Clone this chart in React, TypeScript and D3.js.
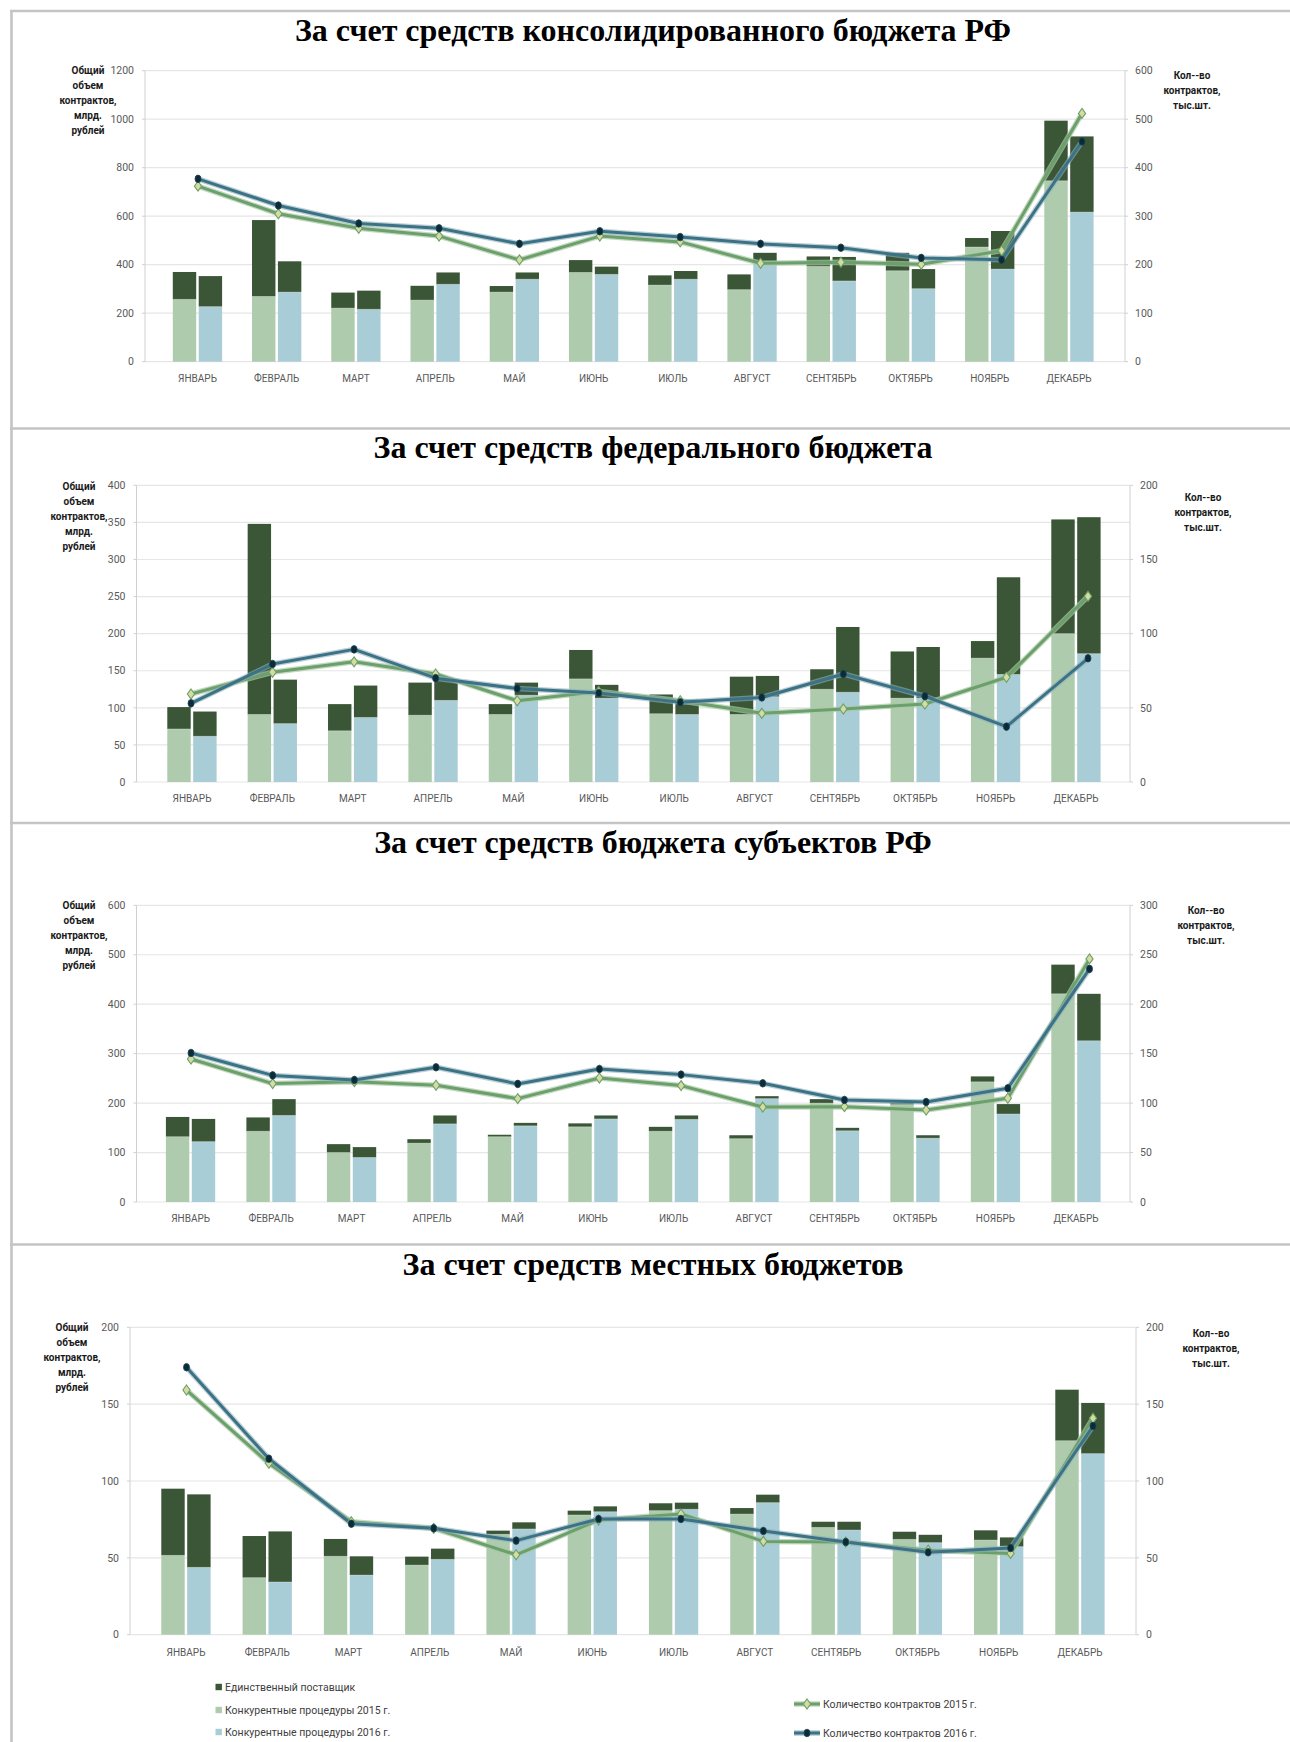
import React from 'react';
import * as d3 from 'd3';

// ---------- categories / labels ----------
const MONTHS = ['ЯНВАРЬ', 'ФЕВРАЛЬ', 'МАРТ', 'АПРЕЛЬ', 'МАЙ', 'ИЮНЬ', 'ИЮЛЬ', 'АВГУСТ', 'СЕНТЯБРЬ', 'ОКТЯБРЬ', 'НОЯБРЬ', 'ДЕКАБРЬ'];
const TITLES = [
  'За счет средств консолидированного бюджета РФ',
  'За счет средств федерального бюджета',
  'За счет средств бюджета субъектов РФ',
  'За счет средств местных бюджетов',
];
const LEFT_LABEL = ['Общий', 'объем', 'контрактов,', 'млрд.', 'рублей'];
const RIGHT_LABEL = ['Кол--во', 'контрактов,', 'тыс.шт.'];
const LEGEND_BARS = ['Единственный поставщик', 'Конкурентные процедуры 2015 г.', 'Конкурентные процедуры 2016 г.'];
const LEGEND_LINES = ['Количество контрактов 2015 г.', 'Количество контрактов 2016 г.'];

// ---------- axis ranges ----------
const LEFT_MAX = [1200, 400, 600, 200];
const LEFT_STEP = [200, 50, 100, 50];
const RIGHT_MAX = [600, 200, 300, 200];
const RIGHT_STEP = [100, 50, 50, 50];

// ---------- panel 1: consolidated budget ----------
const CONS_COMP_2015 = [257, 269, 221, 254, 287, 368, 316, 297, 393, 375, 473, 746];
const CONS_TOTAL_2015 = [370, 584, 285, 313, 312, 419, 356, 360, 434, 449, 510, 994];
const CONS_COMP_2016 = [227, 287, 216, 319, 340, 360, 340, 414, 333, 301, 382, 617];
const CONS_TOTAL_2016 = [353, 414, 293, 368, 368, 392, 374, 449, 432, 382, 539, 929];
const CONS_COUNT_2015 = [362, 305, 275, 259, 210, 259, 247, 203, 205, 201, 229, 512];
const CONS_COUNT_2016 = [377, 322, 285, 275, 243, 269, 257, 243, 235, 214, 210, 454];

// ---------- panel 2: federal budget ----------
const FED_COMP_2015 = [71.5, 91, 69, 90, 91, 139, 92, 91, 125, 113, 167, 200];
const FED_TOTAL_2015 = [101, 348, 105, 134, 105, 178, 118, 142, 152, 176, 190, 354];
const FED_COMP_2016 = [61.6, 78.7, 87, 110, 117, 113, 91, 115, 121, 113, 145, 173];
const FED_TOTAL_2016 = [95, 138, 130, 138, 134, 131, 111, 143, 209, 182, 276, 357];
const FED_COUNT_2015 = [59.3, 74, 81, 72.8, 54.8, 61, 54.8, 46.3, 49.2, 52.6, 70.6, 125.2];
const FED_COUNT_2016 = [53, 79.5, 89.4, 70, 63, 60, 53.7, 57, 72.8, 57.8, 37.3, 83.4];

// ---------- panel 3: regional budgets ----------
const REG_COMP_2015 = [132, 143, 100, 119, 132, 152, 143, 128, 200, 197, 243, 421];
const REG_TOTAL_2015 = [172, 171, 117, 127, 136, 159, 152, 135, 208, 200, 254, 480];
const REG_COMP_2016 = [122, 175, 90, 158, 154, 168, 167, 209, 144, 129, 178, 326];
const REG_TOTAL_2016 = [168, 208, 111, 175, 160, 175, 175, 214, 150, 135, 198, 421];
const REG_COUNT_2015 = [144.6, 119.7, 121.7, 118, 104.5, 125.4, 117.7, 96, 96.4, 93, 104.9, 245.8];
const REG_COUNT_2016 = [150.7, 128, 123.4, 136.2, 119.4, 134.5, 128.8, 120, 103.2, 101.1, 115, 235.7];

// ---------- panel 4: local budgets ----------
const LOC_COMP_2015 = [51.6, 37.1, 51, 45.3, 65.3, 77.9, 80.7, 78.5, 69.8, 62, 61.6, 126.2];
const LOC_TOTAL_2015 = [95, 64.2, 62.3, 50.8, 67.7, 80.7, 85.5, 82.4, 73.5, 67, 67.9, 159.4];
const LOC_COMP_2016 = [43.8, 34.3, 38.8, 49, 68.8, 80, 81.6, 85.9, 68.1, 59.9, 57.3, 117.8];
const LOC_TOTAL_2016 = [91.3, 67.2, 51, 56, 73.1, 83.5, 85.9, 91.1, 73.5, 65, 63.3, 150.8];
const LOC_COUNT_2015 = [159.2, 111.5, 73.5, 69.2, 52, 74.6, 78.5, 60.7, 60.3, 55, 52.9, 140.8];
const LOC_COUNT_2016 = [174, 114.5, 72.2, 69.2, 61.2, 75.3, 75.3, 67.5, 60.3, 53.6, 56.4, 135.8];

const SERIES = [
  { comp15: CONS_COMP_2015, tot15: CONS_TOTAL_2015, comp16: CONS_COMP_2016, tot16: CONS_TOTAL_2016, c15: CONS_COUNT_2015, c16: CONS_COUNT_2016 },
  { comp15: FED_COMP_2015, tot15: FED_TOTAL_2015, comp16: FED_COMP_2016, tot16: FED_TOTAL_2016, c15: FED_COUNT_2015, c16: FED_COUNT_2016 },
  { comp15: REG_COMP_2015, tot15: REG_TOTAL_2015, comp16: REG_COMP_2016, tot16: REG_TOTAL_2016, c15: REG_COUNT_2015, c16: REG_COUNT_2016 },
  { comp15: LOC_COMP_2015, tot15: LOC_TOTAL_2015, comp16: LOC_COMP_2016, tot16: LOC_TOTAL_2016, c15: LOC_COUNT_2015, c16: LOC_COUNT_2016 },
];

// ---------- layout (positions only) ----------
const LAYOUT = [
  { axL: 145, axR: 1125, yTop: 70.7, y0: 361.7, bar0: 197.5, bar1: 1069, line0: 198, line1: 1082, titleY: 41, xLabY: 378, lLX: 88, lLY: 70.7, rLX: 1192, rLY: 75 },
  { axL: 136.5, axR: 1130, yTop: 485.3, y0: 782, bar0: 192, bar1: 1076, line0: 191, line1: 1088, titleY: 458, xLabY: 798, lLX: 79, lLY: 486, rLX: 1203, rLY: 497 },
  { axL: 136.5, axR: 1130, yTop: 905.3, y0: 1202, bar0: 190.6, bar1: 1076, line0: 191, line1: 1089.5, titleY: 853, xLabY: 1218, lLX: 79, lLY: 905, rLX: 1206, rLY: 910 },
  { axL: 130, axR: 1136, yTop: 1327.3, y0: 1634.7, bar0: 186, bar1: 1080, line0: 186.5, line1: 1093, titleY: 1275, xLabY: 1652, lLX: 72, lLY: 1327, rLX: 1211, rLY: 1333 },
];

const C_DARK = '#3a5636';
const C_G15 = '#aecbae';
const C_B16 = '#a9cdd7';
const C_L15 = '#6b9f6b';
const C_L16 = '#3b7285';
const FONT = 'Roboto, "Open Sans", sans-serif';
const TITLE_FONT = '"Liberation Serif", "Times New Roman", serif';

function Diamond({ x, y }: { x: number; y: number }) {
  return (
    <path d={`M${x},${y - 5} L${x + 3.6},${y} L${x},${y + 5} L${x - 3.6},${y} Z`} fill="#d6dca0" stroke={C_L15} strokeWidth={1.1} />
  );
}
function Dot({ x, y }: { x: number; y: number }) {
  return <ellipse cx={x} cy={y} rx={3} ry={3.8} fill="#0c2a38" stroke="#1d4656" strokeWidth={0.8} />;
}

function Panel({ idx }: { idx: number }) {
  const L = LAYOUT[idx];
  const S = SERIES[idx];
  const yL = d3.scaleLinear().domain([0, LEFT_MAX[idx]]).range([L.y0, L.yTop]);
  const yR = d3.scaleLinear().domain([0, RIGHT_MAX[idx]]).range([L.y0, L.yTop]);
  const xBar = d3.scalePoint<string>().domain(MONTHS).range([L.bar0, L.bar1]);
  const xLine = d3.scalePoint<string>().domain(MONTHS).range([L.line0, L.line1]);
  const leftTicks = d3.range(0, LEFT_MAX[idx] + 0.001, LEFT_STEP[idx]);
  const rightTicks = d3.range(0, RIGHT_MAX[idx] + 0.001, RIGHT_STEP[idx]);
  const line = d3.line<number>().x((_, i) => xLine(MONTHS[i]) as number).y((v) => yR(v));
  const bw = 23.4;

  return (
    <g>
      <text x={653} y={L.titleY} textAnchor="middle" fontFamily={TITLE_FONT} fontWeight="bold" fontSize={32} fill="#000">
        {TITLES[idx]}
      </text>
      {/* grid */}
      {leftTicks.map((t) => (
        <line key={'g' + t} x1={L.axL} x2={L.axR} y1={yL(t)} y2={yL(t)} stroke="#e6e6e6" strokeWidth={1.2} />
      ))}
      {/* axes */}
      <line x1={L.axL} x2={L.axL} y1={L.yTop} y2={L.y0} stroke="#d0d0d0" strokeWidth={1} />
      <line x1={L.axR} x2={L.axR} y1={L.yTop} y2={L.y0} stroke="#d0d0d0" strokeWidth={1} />
      {leftTicks.map((t) => (
        <g key={'lt' + t}>
          <line x1={L.axL - 3} x2={L.axL} y1={yL(t)} y2={yL(t)} stroke="#d0d0d0" />
          <text x={L.axL - 11} y={yL(t)} dy="0.35em" textAnchor="end" fontFamily={FONT} fontSize={10.5} fill="#595959">
            {t}
          </text>
        </g>
      ))}
      {rightTicks.map((t) => (
        <g key={'rt' + t}>
          <line x1={L.axR} x2={L.axR + 3} y1={yR(t)} y2={yR(t)} stroke="#d0d0d0" />
          <text x={L.axR + 10} y={yR(t)} dy="0.35em" textAnchor="start" fontFamily={FONT} fontSize={10.5} fill="#595959">
            {t}
          </text>
        </g>
      ))}
      {/* bars */}
      {MONTHS.map((m, i) => {
        const c = xBar(m) as number;
        const x15 = c - 24.7;
        const x16 = c + 1.2;
        return (
          <g key={'b' + m}>
            <rect x={x15} width={bw} y={yL(S.comp15[i])} height={L.y0 - yL(S.comp15[i])} fill={C_G15} />
            <rect x={x15} width={bw} y={yL(S.tot15[i])} height={yL(S.comp15[i]) - yL(S.tot15[i])} fill={C_DARK} />
            <rect x={x16} width={bw} y={yL(S.comp16[i])} height={L.y0 - yL(S.comp16[i])} fill={C_B16} />
            <rect x={x16} width={bw} y={yL(S.tot16[i])} height={yL(S.comp16[i]) - yL(S.tot16[i])} fill={C_DARK} />
            <line x1={x15} x2={x15 + bw} y1={yL(S.comp15[i])} y2={yL(S.comp15[i])} stroke="#ffffff" strokeOpacity={0.35} strokeWidth={0.8} />
            <line x1={x16} x2={x16 + bw} y1={yL(S.comp16[i])} y2={yL(S.comp16[i])} stroke="#ffffff" strokeOpacity={0.35} strokeWidth={0.8} />
            <text x={c} y={L.xLabY} dy="0.35em" textAnchor="middle" fontFamily={FONT} fontSize={10} fill="#595959">
              {m}
            </text>
          </g>
        );
      })}
      {/* lines */}
      <path d={line(S.c15) || ''} fill="none" stroke="#a9c9a4" strokeOpacity={0.7} strokeWidth={5.5} strokeLinejoin="round" />
      <path d={line(S.c15) || ''} fill="none" stroke={C_L15} strokeWidth={3} strokeLinejoin="round" />
      <path d={line(S.c16) || ''} fill="none" stroke="#8fb0bb" strokeOpacity={0.6} strokeWidth={5.5} strokeLinejoin="round" />
      <path d={line(S.c16) || ''} fill="none" stroke={C_L16} strokeWidth={3} strokeLinejoin="round" />
      {S.c15.map((v, i) => (
        <Diamond key={'d' + i} x={xLine(MONTHS[i]) as number} y={yR(v)} />
      ))}
      {S.c16.map((v, i) => (
        <Dot key={'o' + i} x={xLine(MONTHS[i]) as number} y={yR(v)} />
      ))}
      {/* axis titles */}
      {LEFT_LABEL.map((s, i) => (
        <text key={'ll' + i} x={L.lLX} y={L.lLY + i * 15} dy="0.35em" textAnchor="middle" fontFamily={FONT} fontWeight="bold" fontSize={10} fill="#1a1a1a">
          {s}
        </text>
      ))}
      {RIGHT_LABEL.map((s, i) => (
        <text key={'rl' + i} x={L.rLX} y={L.rLY + i * 15} dy="0.35em" textAnchor="middle" fontFamily={FONT} fontWeight="bold" fontSize={10} fill="#1a1a1a">
          {s}
        </text>
      ))}
    </g>
  );
}

export default function App() {
  const seps = [11, 428.5, 823, 1244.5];
  const barColors = [C_DARK, C_G15, C_B16];
  const barLegY = [1687, 1710, 1732];
  const lineLegY = [1704, 1733];
  return (
    <svg width={1290} height={1742} style={{ position: 'absolute', left: 0, top: 0, display: 'block', background: '#fff' }}>
      <rect x={0} y={0} width={1290} height={1742} fill="#ffffff" />
      {seps.map((y) => (
        <line key={'s' + y} x1={10} x2={1290} y1={y} y2={y} stroke="#c4c4c4" strokeWidth={2.6} />
      ))}
      <line x1={11.5} x2={11.5} y1={10} y2={1742} stroke="#c4c4c4" strokeWidth={2.6} />
      {[0, 1, 2, 3].map((i) => (
        <Panel key={i} idx={i} />
      ))}
      {LEGEND_BARS.map((s, i) => (
        <g key={'lb' + i}>
          <rect x={215.5} y={barLegY[i] - 3.2} width={6.4} height={6.4} fill={barColors[i]} />
          <text x={225} y={barLegY[i]} dy="0.35em" fontFamily={FONT} fontSize={10.5} fill="#404040">
            {s}
          </text>
        </g>
      ))}
      {LEGEND_LINES.map((s, i) => (
        <g key={'ln' + i}>
          <line x1={794} x2={820} y1={lineLegY[i]} y2={lineLegY[i]} stroke={i === 0 ? '#a9c9a4' : '#8fb0bb'} strokeWidth={5.5} strokeOpacity={0.7} />
          <line x1={794} x2={820} y1={lineLegY[i]} y2={lineLegY[i]} stroke={i === 0 ? C_L15 : C_L16} strokeWidth={3} />
          {i === 0 ? <Diamond x={807} y={lineLegY[i]} /> : <Dot x={807} y={lineLegY[i]} />}
          <text x={823} y={lineLegY[i]} dy="0.35em" fontFamily={FONT} fontSize={10.5} fill="#404040">
            {s}
          </text>
        </g>
      ))}
    </svg>
  );
}
